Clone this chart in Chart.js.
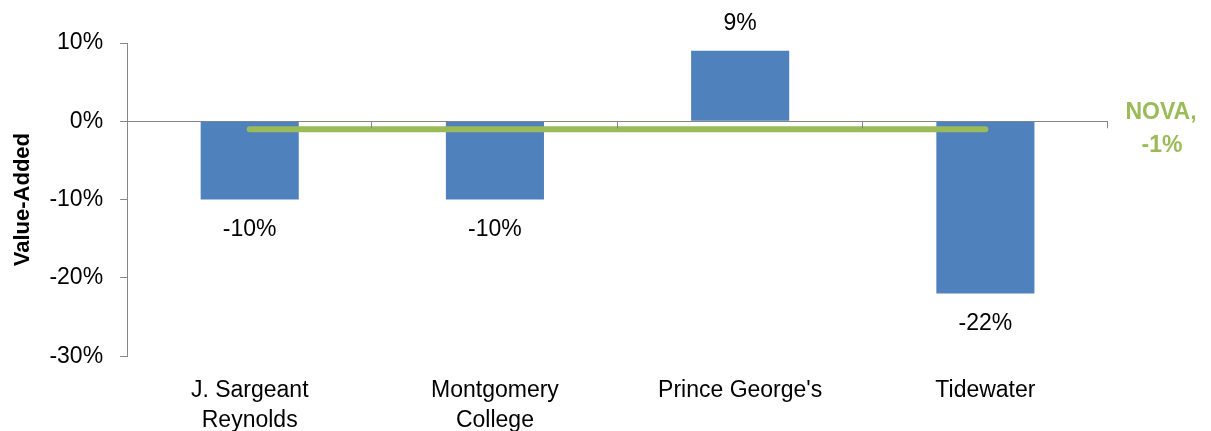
<!DOCTYPE html>
<html>
<head>
<meta charset="utf-8">
<script src="https://cdn.jsdelivr.net/npm/chart.js@4"></script>
<style>
  html, body { margin: 0; padding: 0; background: #fff; }
  #wrap { width: 1211px; height: 431px; position: relative; }
</style>
</head>
<body>
<div id="wrap"><canvas id="chart"></canvas></div>
<script>
const categories = [['J. Sargeant', 'Reynolds'], ['Montgomery', 'College'], "Prince George's", 'Tidewater'];
const valueAdded = [-10, -10, 9, -22];
const novaValue = [-1, -1, -1, -1];
const yTicks = [10, 0, -10, -20, -30];

const axisGray = '#868686';
const fontFamily = '"Liberation Sans", Arial, sans-serif';
const fmtPct = v => v + '%';

// labels above/below bars + NOVA label + category tick marks on zero line
const extras = {
    id: 'extras',
    afterDatasetsDraw(chart) {
        const ctx = chart.ctx;
        const x = chart.scales.x, y = chart.scales.y;
        const y0 = y.getPixelForValue(0);
        ctx.save();

        // tick marks on zero line between categories
        ctx.strokeStyle = axisGray;
        ctx.lineWidth = 1;
        const step = (x.right - x.left) / categories.length;
        for (let i = 1; i <= categories.length; i++) {
            const px = Math.round(x.left + step * i) - 0.5;
            ctx.beginPath();
            ctx.moveTo(px, y0);
            ctx.lineTo(px, y0 + 7);
            ctx.stroke();
        }

        // bar value labels
        ctx.font = '23px ' + fontFamily;
        ctx.fillStyle = '#000';
        ctx.textAlign = 'center';
        ctx.textBaseline = 'middle';
        chart.getDatasetMeta(0).data.forEach((bar, i) => {
            const v = valueAdded[i];
            const py = v >= 0 ? bar.y - 27 : bar.y + 30;
            ctx.fillText(fmtPct(v), bar.x, py);
        });

        // NOVA series label
        ctx.font = 'bold 23px ' + fontFamily;
        ctx.fillStyle = '#9BBB59';
        const last = novaValue[novaValue.length - 1];
        const ny = y.getPixelForValue(last);
        ctx.fillText('NOVA,', x.right + 53, ny - 16);
        ctx.fillText(fmtPct(last), x.right + 54, ny + 17);
        ctx.restore();
    }
};

new Chart(document.getElementById('chart'), {
    type: 'bar',
    data: {
        labels: categories,
        datasets: [{
            label: 'Value-Added',
            data: valueAdded,
            backgroundColor: '#4F81BD',
            barPercentage: 0.4,
            categoryPercentage: 1,
            order: 2
        }, {
            type: 'line',
            label: 'NOVA',
            data: novaValue,
            borderColor: '#9BBB59',
            borderWidth: 6,
            borderCapStyle: 'round',
            pointRadius: 0,
            fill: false,
            order: 1
        }]
    },
    options: {
        responsive: true,
        maintainAspectRatio: false,
        animation: false,
        layout: { padding: { top: 43, right: 103, left: 0, bottom: -17 } },
        plugins: {
            legend: { display: false },
            tooltip: { enabled: false }
        },
        scales: {
            x: {
                grid: { display: false },
                border: { display: false },
                ticks: {
                    color: '#000',
                    font: { size: 23, family: fontFamily, lineHeight: 1.3 },
                    padding: 12,
                    maxRotation: 0
                }
            },
            y: {
                min: -30,
                max: 10,
                afterBuildTicks: axis => { axis.ticks = yTicks.map(v => ({ value: v })); },
                border: { display: true, color: axisGray, width: 1 },
                grid: {
                    color: c => (c.tick && c.tick.value === 0 ? axisGray : 'rgba(0,0,0,0)'),
                    tickColor: axisGray,
                    tickLength: 7,
                    drawOnChartArea: true
                },
                ticks: {
                    color: '#000',
                    font: { size: 23, family: fontFamily },
                    padding: 17,
                    callback: v => fmtPct(v)
                },
                title: {
                    display: true,
                    text: 'Value-Added',
                    color: '#000',
                    font: { size: 22, weight: 'bold', family: fontFamily },
                    padding: { top: 10, bottom: -4 }
                }
            }
        }
    },
    plugins: [extras]
});
</script>
</body>
</html>
